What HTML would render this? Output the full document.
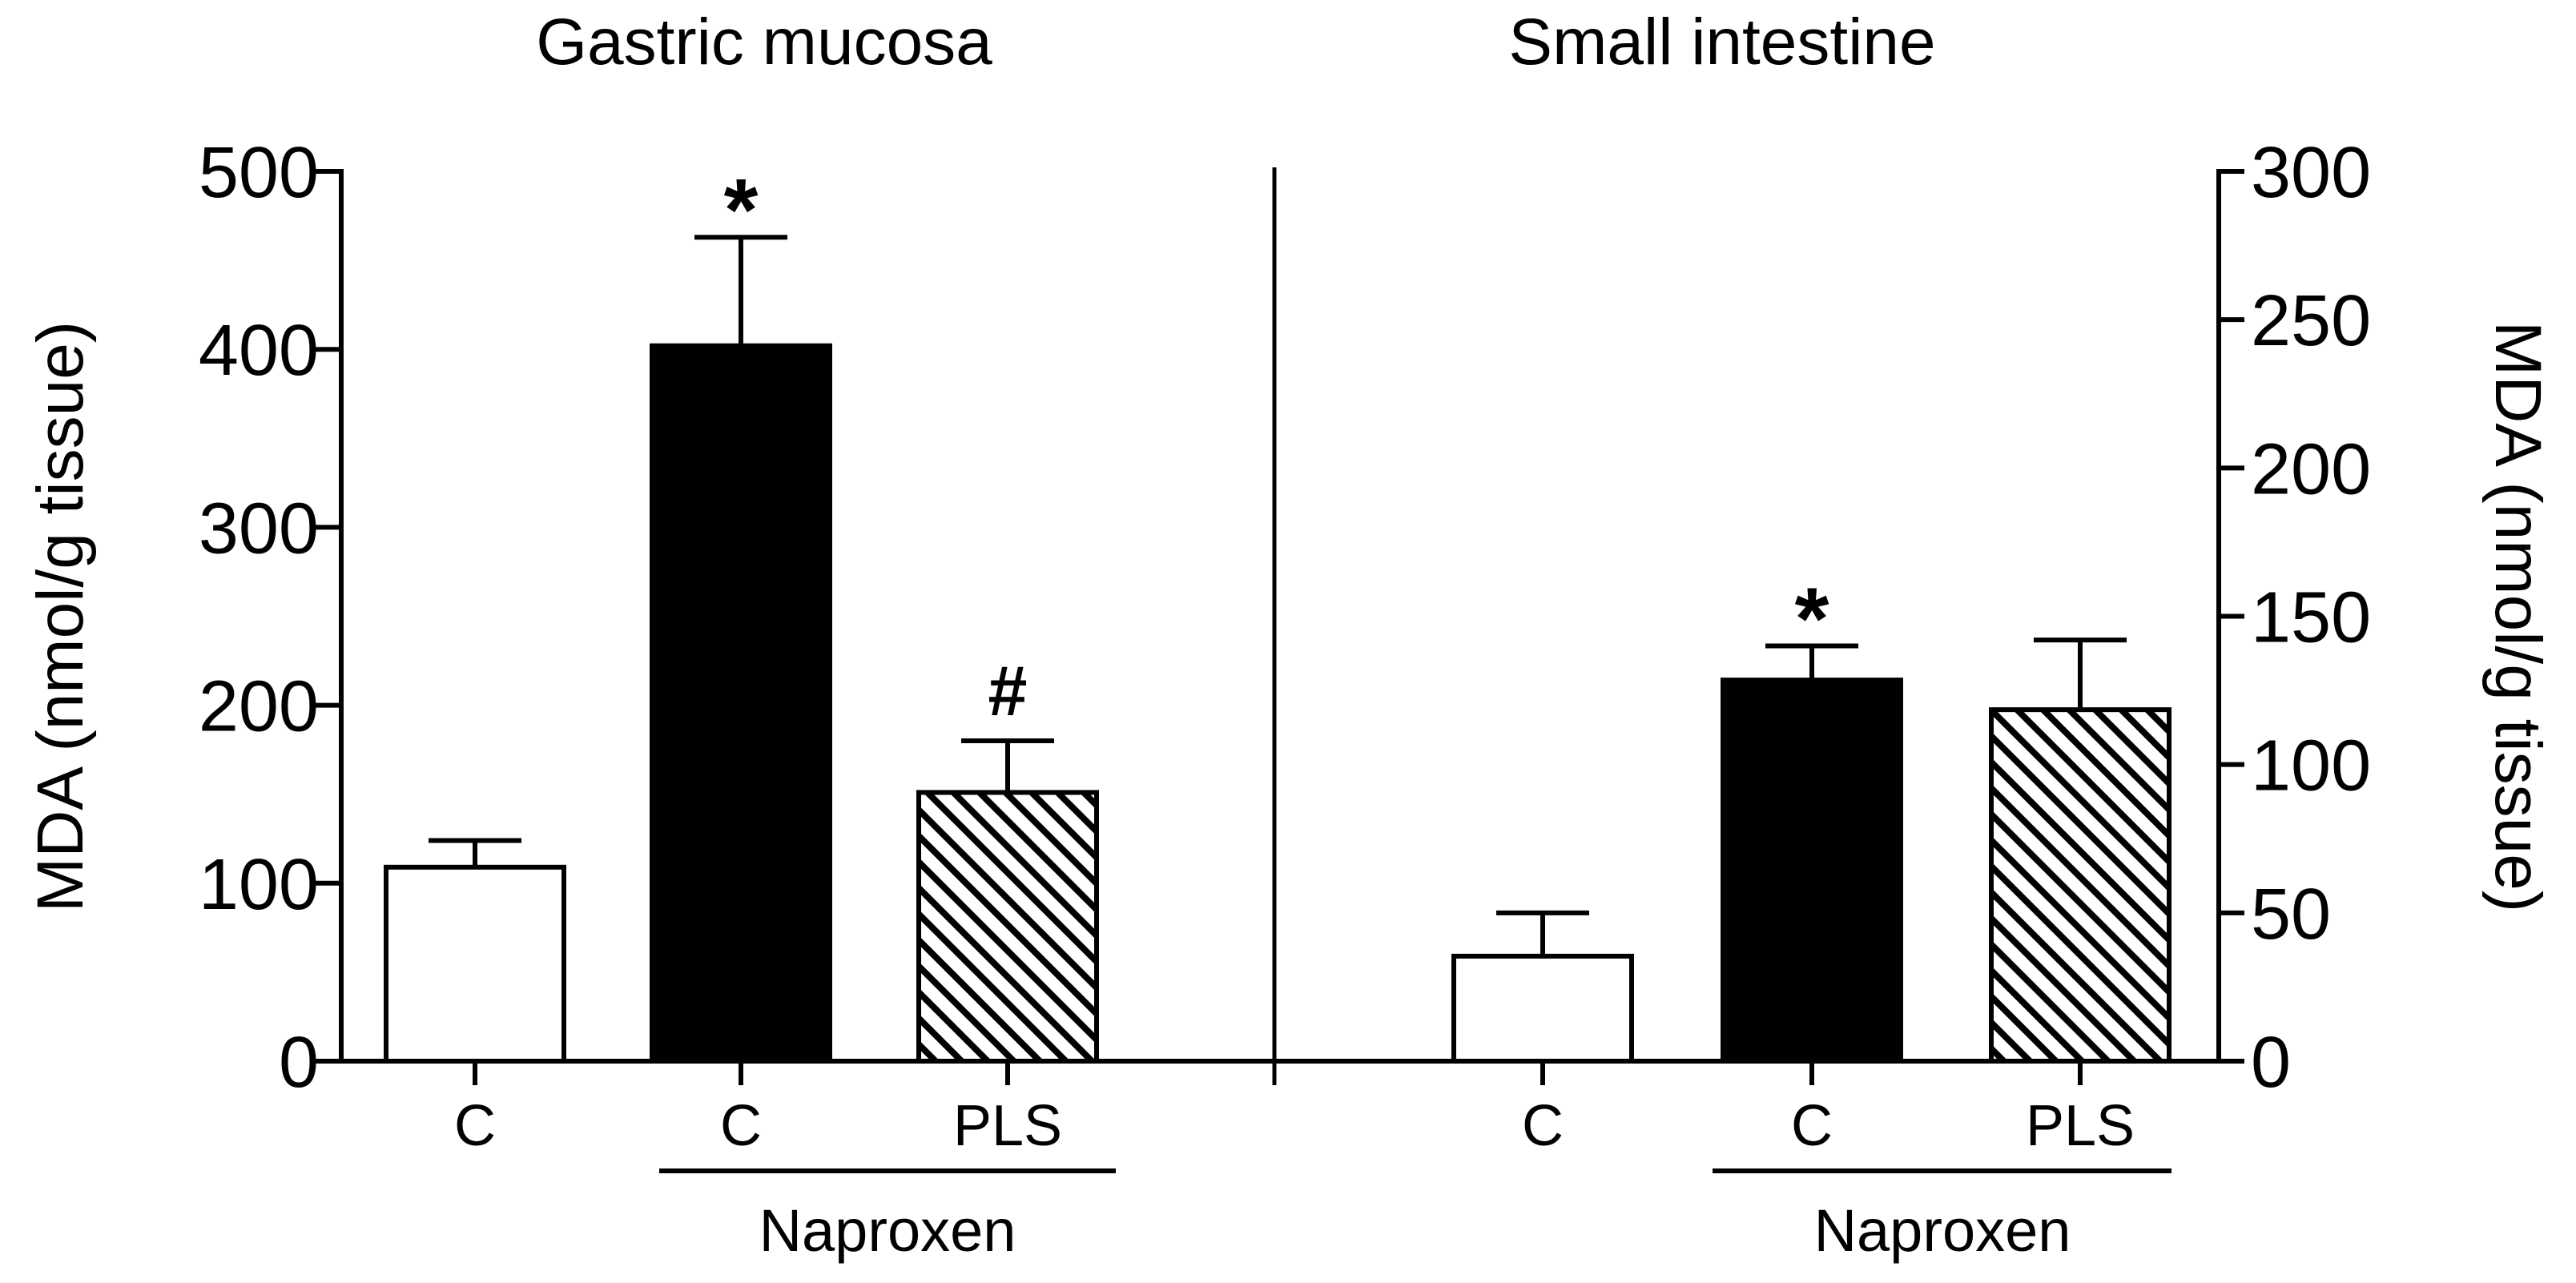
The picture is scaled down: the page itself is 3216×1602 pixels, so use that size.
<!DOCTYPE html>
<html><head><meta charset="utf-8"><style>
html,body{margin:0;padding:0;background:#fff}
svg{display:block}
text{font-family:"Liberation Sans",Arial,sans-serif;fill:#000}
</style></head><body>
<svg id="chart" width="3216" height="1602" viewBox="0 0 3216 1602" xmlns="http://www.w3.org/2000/svg">
<defs>
<pattern id="hatch" patternUnits="userSpaceOnUse" width="23" height="23" patternTransform="rotate(-45)">
<rect width="23" height="23" fill="#fff"/>
<rect x="0" y="0" width="8" height="23" fill="#000"/>
</pattern>
</defs>
<g id="g"></g>
</svg>
<script>
const leftCats=["C","C","PLS"];
const leftVals=[109,402,151];
const leftErr=[124,463,180];
const leftTicks=[0,100,200,300,400,500];
const rightCats=["C","C","PLS"];
const rightVals=[35.4,128.5,118.5];
const rightErr=[50,140,142];
const rightTicks=[0,50,100,150,200,250,300];
const leftMarks=["","*","#"];
const rightMarks=["","*",""];

const NS="http://www.w3.org/2000/svg";
const g=document.getElementById('g');
function el(t,a,txt){const e=document.createElementNS(NS,t);for(const k in a)e.setAttribute(k,a[k]);if(txt!==undefined)e.textContent=txt;g.appendChild(e);return e;}
const Y0=1325,YT=214,SW=6;
const yL=v=>Y0-(v/500)*(Y0-YT);
const yR=v=>Y0-(v/300)*(Y0-YT);
const xLc=[593,925,1258], xRc=[1926,2262,2597], bw=222;
const fills=["#fff","#000","url(#hatch)"];

let e;
e=el('line',{x1:426,y1:YT-3,x2:426,y2:Y0+3,stroke:'#000','stroke-width':SW});

e=el('line',{x1:2770,y1:YT-3,x2:2770,y2:Y0+3,stroke:'#000','stroke-width':SW});

e=el('line',{x1:394,y1:Y0,x2:2802,y2:Y0,stroke:'#000','stroke-width':SW});

e=el('line',{x1:1591,y1:209,x2:1591,y2:1355,stroke:'#000','stroke-width':5});


leftTicks.forEach(t=>{
 e=el('line',{x1:394,y1:yL(t),x2:426,y2:yL(t),stroke:'#000','stroke-width':SW});
 
 e=el('text',{x:398,y:yL(t)+32,'text-anchor':'end','font-size':90},String(t));
 
});
rightTicks.forEach(t=>{
 e=el('line',{x1:2770,y1:yR(t),x2:2802,y2:yR(t),stroke:'#000','stroke-width':SW});
 
 e=el('text',{x:2810,y:yR(t)+32,'text-anchor':'start','font-size':90},String(t));
 
});

function panel(cats,vals,errs,marks,xc,yf,pfx){
 cats.forEach((c,i)=>{
  const x=xc[i]-bw/2, top=yf(vals[i]);
  e=el('line',{x1:xc[i],y1:top,x2:xc[i],y2:yf(errs[i]),stroke:'#000','stroke-width':SW});
  
  e=el('line',{x1:xc[i]-58,y1:yf(errs[i]),x2:xc[i]+58,y2:yf(errs[i]),stroke:'#000','stroke-width':SW});
  
  e=el('rect',{x:x,y:top,width:bw,height:Y0-top,fill:fills[i],stroke:'#000','stroke-width':SW});
  
  e=el('line',{x1:xc[i],y1:Y0,x2:xc[i],y2:Y0+30,stroke:'#000','stroke-width':SW});
  
  e=el('text',{x:xc[i],y:1430,'text-anchor':'middle','font-size':72},c);
  
  if(marks[i]){
   const star=marks[i]=="*";
   e=el('text',{x:xc[i],y:yf(errs[i])-(star?-4:32),'text-anchor':'middle','font-size':star?110:88,'font-weight':'bold'},marks[i]);
   
  }
 });
}
panel(leftCats,leftVals,leftErr,leftMarks,xLc,yL,'gastric');
panel(rightCats,rightVals,rightErr,rightMarks,xRc,yR,'intestine');

e=el('line',{x1:823,y1:1462,x2:1393,y2:1462,stroke:'#000','stroke-width':SW});

e=el('line',{x1:2138,y1:1462,x2:2711,y2:1462,stroke:'#000','stroke-width':SW});

e=el('text',{x:1108,y:1562,'text-anchor':'middle','font-size':74},'Naproxen');

e=el('text',{x:2425,y:1562,'text-anchor':'middle','font-size':74},'Naproxen');

e=el('text',{x:954,y:80,'text-anchor':'middle','font-size':82},'Gastric mucosa');

e=el('text',{x:2150,y:80,'text-anchor':'middle','font-size':82},'Small intestine');

e=el('text',{x:0,y:0,'text-anchor':'middle','font-size':82,transform:'translate(103,770) rotate(-90)'},'MDA (nmol/g tissue)');

e=el('text',{x:0,y:0,'text-anchor':'middle','font-size':82,transform:'translate(3116,770) rotate(90)'},'MDA (nmol/g tissue)');

</script>
</body></html>
